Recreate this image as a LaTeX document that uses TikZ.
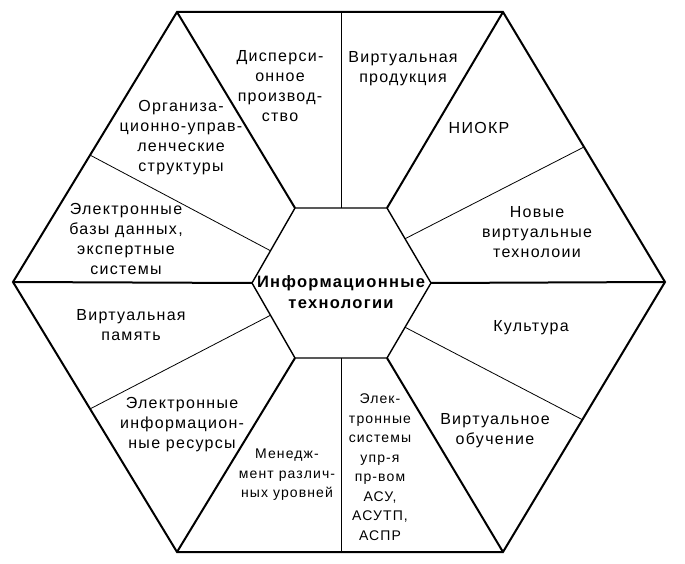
\documentclass[tikz,border=0pt]{standalone}
\usepackage{fontspec}
\setmainfont{Liberation Sans}[LetterSpace=8]
\usetikzlibrary{calc}
\tikzset{
  outer/.style={line width=2pt, line join=miter},
  inner/.style={line width=1.4pt, line join=miter},
  spoke/.style={line width=0.8pt},
  lbl/.style={align=center, inner sep=0pt, font=\fontsize{16}{20}\selectfont},
  small/.style={align=center, inner sep=0pt, font=\fontsize{14}{19.5}\selectfont},
  centre/.style={align=center, inner sep=0pt, font=\fontsize{16.5}{21.5}\selectfont\bfseries}
}
\begin{document}
\begin{tikzpicture}[x=1pt,y=-1pt]
\useasboundingbox (0,0) rectangle (685,564);
% outer hexagon
\coordinate (OL) at (13,282);
\coordinate (OTL) at (177,12);
\coordinate (OTR) at (503,12);
\coordinate (OR) at (665,282);
\coordinate (OBR) at (503,552);
\coordinate (OBL) at (177,552);
% inner hexagon
\coordinate (IL) at (252,283);
\coordinate (ITL) at (295,208);
\coordinate (ITR) at (387,208);
\coordinate (IR) at (431,283);
\coordinate (IBR) at (387,358);
\coordinate (IBL) at (295,358);
% spoke ends
\coordinate (TT) at (341,12);
\coordinate (TI) at (341,208);
\coordinate (BT) at (341,552);
\coordinate (BI) at (341,358);
\coordinate (ULo) at ($(OL)!0.47!(OTL)$);
\coordinate (ULi) at ($(IL)!0.43!(ITL)$);
\coordinate (URo) at ($(OR)!0.50!(OTR)$);
\coordinate (URi) at ($(IR)!0.59!(ITR)$);
\coordinate (LLo) at ($(OL)!0.47!(OBL)$);
\coordinate (LLi) at ($(IL)!0.43!(IBL)$);
\coordinate (LRo) at ($(OR)!0.51!(OBR)$);
\coordinate (LRi) at ($(IR)!0.59!(IBR)$);

\draw[spoke] (TI) -- (TT);
\draw[spoke] (BI) -- (BT);
\draw[spoke] (ULi) -- (ULo);
\draw[spoke] (URi) -- (URo);
\draw[spoke] (LLi) -- (LLo);
\draw[spoke] (LRi) -- (LRo);
\draw[outer] (OL) -- (IL);
\draw[outer] (IR) -- (OR);
\draw[outer] (ITL) -- (OTL);
\draw[outer] (ITR) -- (OTR);
\draw[outer] (IBL) -- (OBL);
\draw[outer] (IBR) -- (OBR);
\draw[outer] (OL) -- (OTL) -- (OTR) -- (OR) -- (OBR) -- (OBL) -- cycle;
\draw[inner] (IL) -- (ITL) -- (ITR) -- (IR) -- (IBR) -- (IBL) -- cycle;

\node[centre] (it) at (341,292) {Информационные\\технологии};

\node[lbl] (disp) at (280,86) {Дисперси-\\онное\\производ-\\ство};
\node[lbl] (org) at (181,138) {Организа-\\ционно-управ-\\ленческие\\структуры};
\node[lbl] (ebd) at (126,239) {Электронные\\базы данных,\\экспертные\\системы};
\node[lbl] (vprod) at (403,69) {Виртуальная\\продукция};
\node[lbl] (niokr) at (479,128) {НИОКР};
\node[lbl] (nvt) at (537,232) {Новые\\виртуальные\\технолоии};
\node[lbl] (vpam) at (131,325) {Виртуальная\\память};
\node[lbl] (eir) at (182,425) {Электронные\\информацион-\\ные ресурсы};
\node[small] (men) at (287,475) {Менедж-\\мент различ-\\ных уровней};
\node[small] (esu) at (380,467) {Элек-\\тронные\\системы\\упр-я\\пр-вом\\АСУ,\\АСУТП,\\АСПР};
\node[lbl] (kult) at (531,328) {Культура};
\node[lbl] (vob) at (495,431) {Виртуальное\\обучение};
\end{tikzpicture}
\end{document}
